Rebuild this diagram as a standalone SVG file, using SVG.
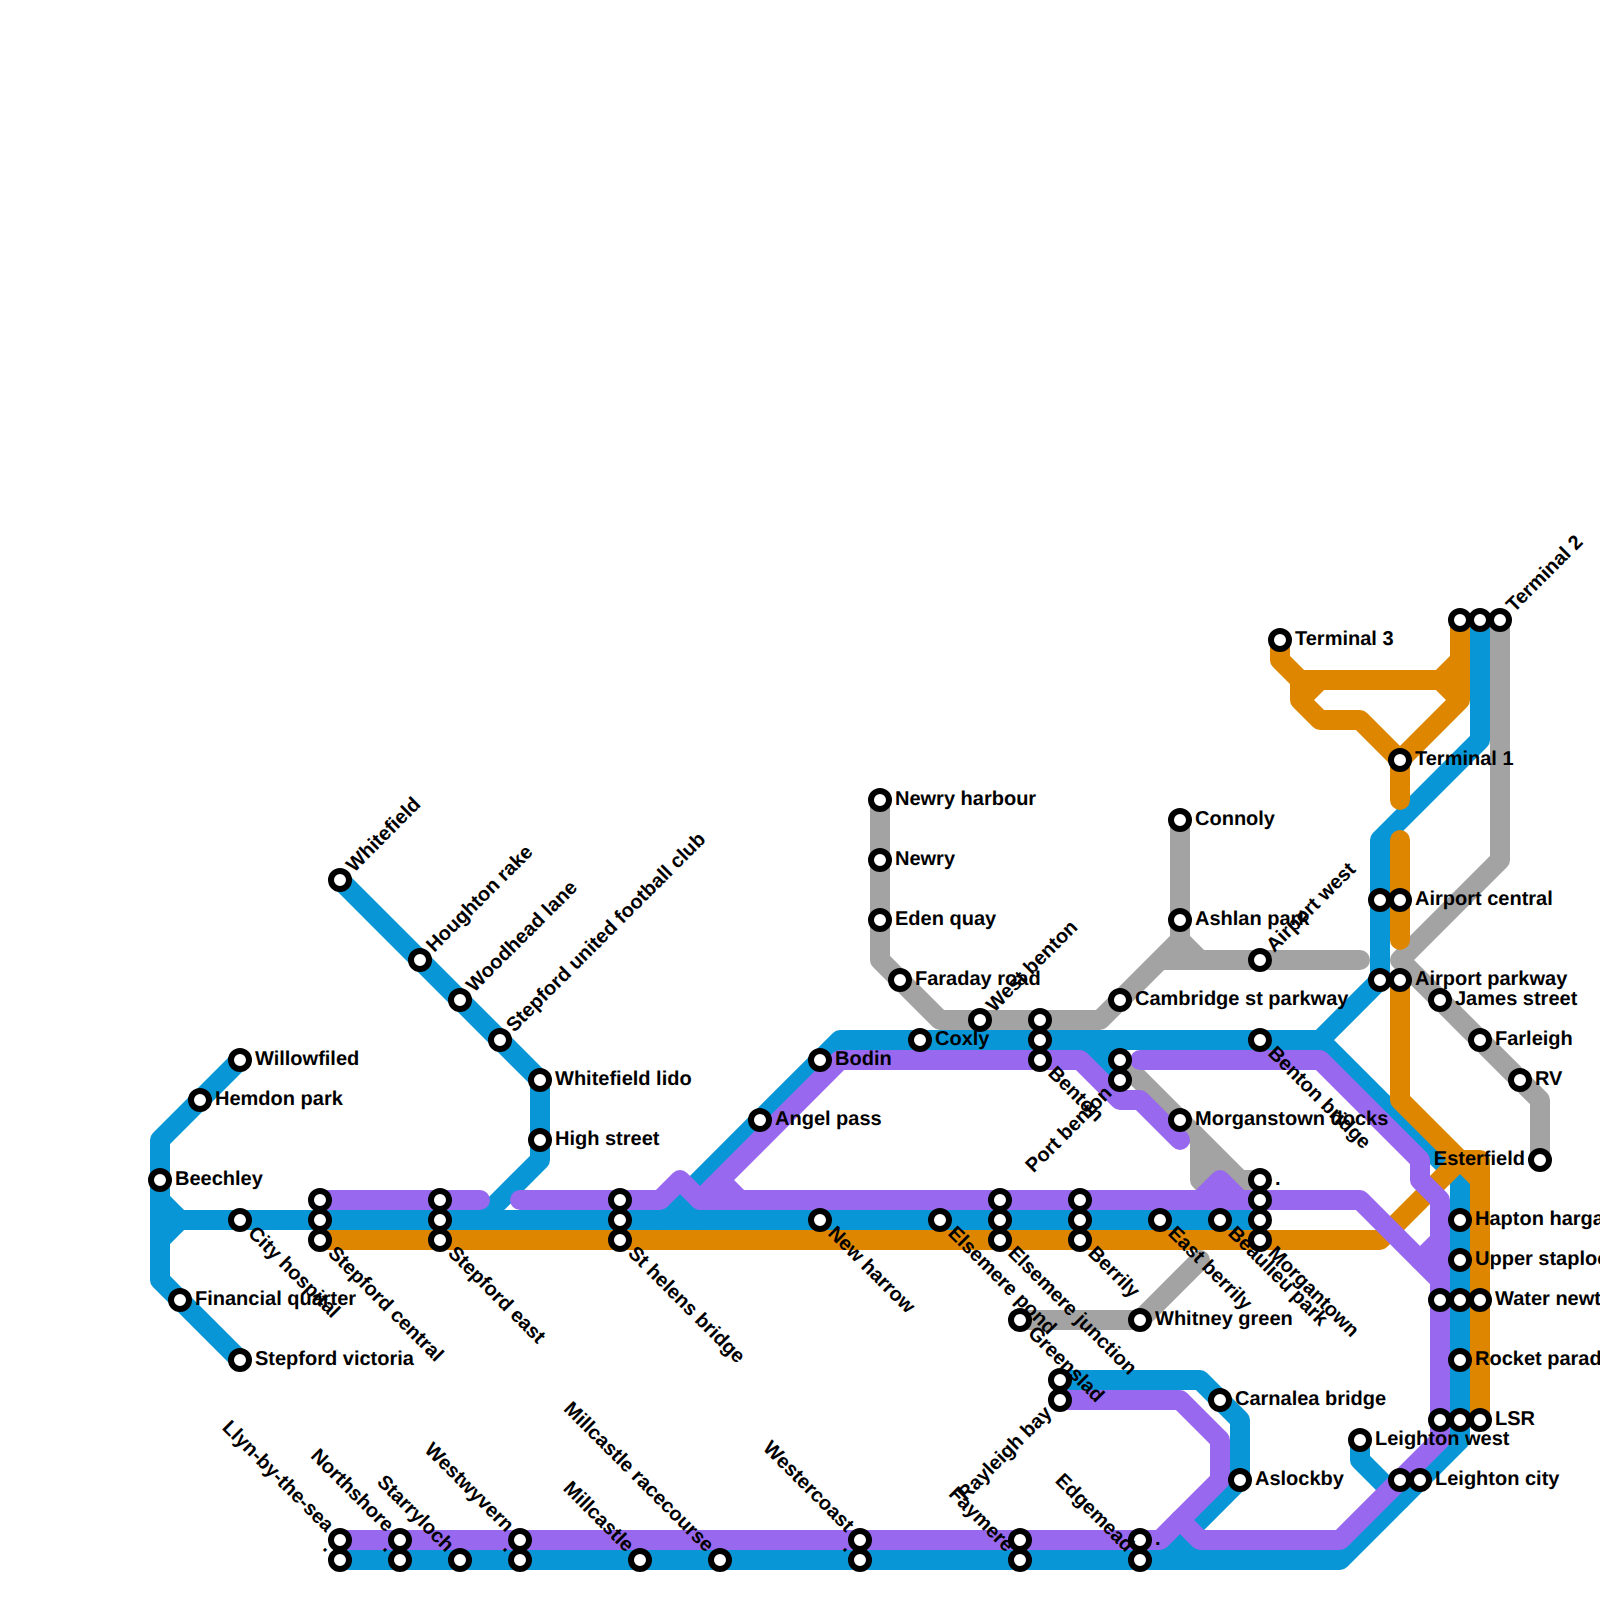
<svg xmlns="http://www.w3.org/2000/svg" width="1600" height="1600" viewBox="0 0 1600 1600">
<style>
.l{fill:none;stroke-width:20;stroke-linecap:round;stroke-linejoin:round}
.g{stroke:#a3a3a3}.b{stroke:#0896d7}.o{stroke:#df8600}.p{stroke:#9869ee}
circle{fill:#fff;stroke:#000;stroke-width:6}
text{font-family:"Liberation Sans",Arial,sans-serif;font-size:20px;font-weight:700;fill:#000;text-rendering:geometricPrecision}
.e{text-anchor:end}
</style>
<rect width="1600" height="1600" fill="#fff"/>
<g id="connectors">
<path class="l g" d="M880,800L880,960L940,1020L1100,1020L1180,940L1180,820M1160,960L1360,960M1180,940L1200,960"/>
<path class="l g" d="M1500,620L1500,860L1400,960L1540,1100L1540,1160"/>
<path class="l g" d="M1120,1060L1240,1180L1260,1180M1200,1140L1200,1180L1220,1200M1200,1180L1220,1160M1220,1200L1240,1180"/>
<path class="l g" d="M1020,1320L1140,1320L1200,1260"/>
<path class="l b" d="M240,1060L160,1140L160,1280L240,1360M160,1200L180,1220M160,1240L180,1220L1260,1220"/>
<path class="l b" d="M340,880L540,1080L540,1160L480,1220"/>
<path class="l b" d="M660,1220L840,1040L1320,1040L1380,980L1380,840L1480,740L1480,620M680,1200L700,1220M1320,1040L1460,1180L1460,1440L1340,1560L340,1560M1080,1040L1120,1080M1100,1040L1120,1060"/>
<path class="l b" d="M1060,1380L1200,1380L1240,1420L1240,1480L1160,1560M1180,1540L1200,1560"/>
<path class="l b" d="M1360,1440L1360,1460L1400,1500"/>
<path class="l o" d="M320,1240L1380,1240L1460,1160L1480,1160L1480,1420M1400,980L1400,1100L1480,1180"/>
<path class="l o" d="M1280,640L1280,660L1300,680L1440,680L1460,660L1460,620L1460,700L1400,760L1400,800M1400,840L1400,940M1440,680L1460,700M1300,680L1300,700L1320,680M1300,700L1320,720L1360,720L1400,760"/>
<path class="l p" d="M320,1200L480,1200"/>
<path class="l p" d="M520,1200L660,1200L680,1180L700,1200L1200,1200L1220,1180L1240,1200L1360,1200L1440,1280L1440,1200L1420,1180L1420,1160L1320,1060L1140,1060M1200,1200L1240,1200"/>
<path class="l p" d="M700,1200L840,1060L1080,1060L1120,1100L1140,1100L1180,1140M720,1180L740,1200"/>
<path class="l p" d="M1440,1240L1420,1260"/>
<path class="l p" d="M1060,1400L1180,1400L1220,1440L1220,1480L1160,1540L340,1540"/>
<path class="l p" d="M1180,1520L1200,1540L1340,1540L1440,1440L1440,1280"/>
</g>
<g id="stations">
<g id="s1"><circle cx="240" cy="1060" r="9"/><text x="255" y="1065">Willowfiled</text></g>
<g id="s2"><circle cx="200" cy="1100" r="9"/><text x="215" y="1105">Hemdon park</text></g>
<g id="s3"><circle cx="160" cy="1180" r="9"/><text x="175" y="1185">Beechley</text></g>
<g id="s4"><circle cx="240" cy="1220" r="9"/><text transform="translate(240 1220) rotate(45)" x="15" y="5">City hospital</text></g>
<g id="s5"><circle cx="180" cy="1300" r="9"/><text x="195" y="1305">Financial quarter</text></g>
<g id="s6"><circle cx="240" cy="1360" r="9"/><text x="255" y="1365">Stepford victoria</text></g>
<g id="s7"><circle cx="320" cy="1200" r="9"/><circle cx="320" cy="1220" r="9"/><circle cx="320" cy="1240" r="9"/><text transform="translate(320 1240) rotate(45)" x="15" y="5">Stepford central</text></g>
<g id="s8"><circle cx="440" cy="1200" r="9"/><circle cx="440" cy="1220" r="9"/><circle cx="440" cy="1240" r="9"/><text transform="translate(440 1240) rotate(45)" x="15" y="5">Stepford east</text></g>
<g id="s9"><circle cx="620" cy="1200" r="9"/><circle cx="620" cy="1220" r="9"/><circle cx="620" cy="1240" r="9"/><text transform="translate(620 1240) rotate(45)" x="15" y="5">St helens bridge</text></g>
<g id="s10"><circle cx="340" cy="880" r="9"/><text transform="translate(340 880) rotate(-45)" x="15" y="5">Whitefield</text></g>
<g id="s11"><circle cx="420" cy="960" r="9"/><text transform="translate(420 960) rotate(-45)" x="15" y="5">Houghton rake</text></g>
<g id="s12"><circle cx="460" cy="1000" r="9"/><text transform="translate(460 1000) rotate(-45)" x="15" y="5">Woodhead lane</text></g>
<g id="s13"><circle cx="500" cy="1040" r="9"/><text transform="translate(500 1040) rotate(-45)" x="15" y="5">Stepford united football club</text></g>
<g id="s14"><circle cx="540" cy="1080" r="9"/><text x="555" y="1085">Whitefield lido</text></g>
<g id="s15"><circle cx="540" cy="1140" r="9"/><text x="555" y="1145">High street</text></g>
<g id="s16"><circle cx="760" cy="1120" r="9"/><text x="775" y="1125">Angel pass</text></g>
<g id="s17"><circle cx="820" cy="1060" r="9"/><text x="835" y="1065">Bodin</text></g>
<g id="s18"><circle cx="820" cy="1220" r="9"/><text transform="translate(820 1220) rotate(45)" x="15" y="5">New harrow</text></g>
<g id="s19"><circle cx="880" cy="800" r="9"/><text x="895" y="805">Newry harbour</text></g>
<g id="s20"><circle cx="880" cy="860" r="9"/><text x="895" y="865">Newry</text></g>
<g id="s21"><circle cx="880" cy="920" r="9"/><text x="895" y="925">Eden quay</text></g>
<g id="s22"><circle cx="900" cy="980" r="9"/><text x="915" y="985">Faraday road</text></g>
<g id="s23"><circle cx="920" cy="1040" r="9"/><text x="935" y="1045">Coxly</text></g>
<g id="s24"><circle cx="940" cy="1220" r="9"/><text transform="translate(940 1220) rotate(45)" x="15" y="5">Elsemere pond</text></g>
<g id="s25"><circle cx="980" cy="1020" r="9"/><text transform="translate(980 1020) rotate(-45)" x="15" y="5">West benton</text></g>
<g id="s26"><circle cx="1000" cy="1200" r="9"/><circle cx="1000" cy="1220" r="9"/><circle cx="1000" cy="1240" r="9"/><text transform="translate(1000 1240) rotate(45)" x="15" y="5">Elsemere junction</text></g>
<g id="s27"><circle cx="1040" cy="1020" r="9"/><circle cx="1040" cy="1040" r="9"/><circle cx="1040" cy="1060" r="9"/><text transform="translate(1040 1060) rotate(45)" x="15" y="5">Benton</text></g>
<g id="s28"><circle cx="1080" cy="1200" r="9"/><circle cx="1080" cy="1220" r="9"/><circle cx="1080" cy="1240" r="9"/><text transform="translate(1080 1240) rotate(45)" x="15" y="5">Berrily</text></g>
<g id="s29"><circle cx="1120" cy="1000" r="9"/><text x="1135" y="1005">Cambridge st parkway</text></g>
<g id="s30"><circle cx="1120" cy="1060" r="9"/><circle cx="1120" cy="1080" r="9"/><text class="e" transform="translate(1120 1080) rotate(-45)" x="-15" y="5">Port benton</text></g>
<g id="s31"><circle cx="1160" cy="1220" r="9"/><text transform="translate(1160 1220) rotate(45)" x="15" y="5">East berrily</text></g>
<g id="s32"><circle cx="1180" cy="820" r="9"/><text x="1195" y="825">Connoly</text></g>
<g id="s33"><circle cx="1180" cy="920" r="9"/><text x="1195" y="925">Ashlan park</text></g>
<g id="s34"><circle cx="1180" cy="1120" r="9"/><text x="1195" y="1125">Morganstown docks</text></g>
<g id="s35"><circle cx="1220" cy="1220" r="9"/><text transform="translate(1220 1220) rotate(45)" x="15" y="5">Beaulieu park</text></g>
<g id="s36"><circle cx="1260" cy="960" r="9"/><text transform="translate(1260 960) rotate(-45)" x="15" y="5">Airport west</text></g>
<g id="s37"><circle cx="1260" cy="1040" r="9"/><text transform="translate(1260 1040) rotate(45)" x="15" y="5">Benton bridge</text></g>
<g id="s38"><circle cx="1260" cy="1180" r="9"/><text x="1275" y="1185">.</text><circle cx="1260" cy="1200" r="9"/><circle cx="1260" cy="1220" r="9"/><circle cx="1260" cy="1240" r="9"/><text transform="translate(1260 1240) rotate(45)" x="15" y="5">Morgantown</text></g>
<g id="s39"><circle cx="1020" cy="1320" r="9"/><text transform="translate(1020 1320) rotate(45)" x="15" y="5">Greenslad</text></g>
<g id="s40"><circle cx="1140" cy="1320" r="9"/><text x="1155" y="1325">Whitney green</text></g>
<g id="s41"><circle cx="1060" cy="1380" r="9"/><circle cx="1060" cy="1400" r="9"/><text class="e" transform="translate(1060 1400) rotate(-45)" x="-15" y="5">Rayleigh bay</text></g>
<g id="s42"><circle cx="1220" cy="1400" r="9"/><text x="1235" y="1405">Carnalea bridge</text></g>
<g id="s43"><circle cx="1240" cy="1480" r="9"/><text x="1255" y="1485">Aslockby</text></g>
<g id="s44"><circle cx="1280" cy="640" r="9"/><text x="1295" y="645">Terminal 3</text></g>
<g id="s45"><circle cx="1400" cy="760" r="9"/><text x="1415" y="765">Terminal 1</text></g>
<g id="s46"><circle cx="1460" cy="620" r="9"/><circle cx="1480" cy="620" r="9"/><circle cx="1500" cy="620" r="9"/><text transform="translate(1500 620) rotate(-45)" x="15" y="5">Terminal 2</text></g>
<g id="s47"><circle cx="1380" cy="900" r="9"/><circle cx="1400" cy="900" r="9"/><text x="1415" y="905">Airport central</text></g>
<g id="s48"><circle cx="1380" cy="980" r="9"/><circle cx="1400" cy="980" r="9"/><text x="1415" y="985">Airport parkway</text></g>
<g id="s49"><circle cx="1440" cy="1000" r="9"/><text x="1455" y="1005">James street</text></g>
<g id="s50"><circle cx="1480" cy="1040" r="9"/><text x="1495" y="1045">Farleigh</text></g>
<g id="s51"><circle cx="1520" cy="1080" r="9"/><text x="1535" y="1085">RV</text></g>
<g id="s52"><circle cx="1540" cy="1160" r="9"/><text class="e" x="1525" y="1165">Esterfield</text></g>
<g id="s53"><circle cx="1460" cy="1220" r="9"/><text x="1475" y="1225">Hapton hargate</text></g>
<g id="s54"><circle cx="1460" cy="1260" r="9"/><text x="1475" y="1265">Upper staploe</text></g>
<g id="s55"><circle cx="1440" cy="1300" r="9"/><circle cx="1460" cy="1300" r="9"/><circle cx="1480" cy="1300" r="9"/><text x="1495" y="1305">Water newton</text></g>
<g id="s56"><circle cx="1460" cy="1360" r="9"/><text x="1475" y="1365">Rocket parade</text></g>
<g id="s57"><circle cx="1440" cy="1420" r="9"/><circle cx="1460" cy="1420" r="9"/><circle cx="1480" cy="1420" r="9"/><text x="1495" y="1425">LSR</text></g>
<g id="s58"><circle cx="1360" cy="1440" r="9"/><text x="1375" y="1445">Leighton west</text></g>
<g id="s59"><circle cx="1400" cy="1480" r="9"/><circle cx="1420" cy="1480" r="9"/><text x="1435" y="1485">Leighton city</text></g>
<g id="s60"><circle cx="340" cy="1540" r="9"/><text class="e" transform="translate(340 1540) rotate(45)" x="-15" y="5">Llyn-by-the-sea</text><circle cx="340" cy="1560" r="9"/><text class="e" transform="translate(340 1560) rotate(45)" x="-15" y="5">.</text></g>
<g id="s61"><circle cx="400" cy="1540" r="9"/><text class="e" transform="translate(400 1540) rotate(45)" x="-15" y="5">Northshore</text><circle cx="400" cy="1560" r="9"/><text class="e" transform="translate(400 1560) rotate(45)" x="-15" y="5">.</text></g>
<g id="s62"><circle cx="460" cy="1560" r="9"/><text class="e" transform="translate(460 1560) rotate(45)" x="-15" y="5">Starryloch</text></g>
<g id="s63"><circle cx="520" cy="1540" r="9"/><text class="e" transform="translate(520 1540) rotate(45)" x="-15" y="5">Westwyvern</text><circle cx="520" cy="1560" r="9"/><text class="e" transform="translate(520 1560) rotate(45)" x="-15" y="5">.</text></g>
<g id="s64"><circle cx="640" cy="1560" r="9"/><text class="e" transform="translate(640 1560) rotate(45)" x="-15" y="5">Millcastle</text></g>
<g id="s65"><circle cx="720" cy="1560" r="9"/><text class="e" transform="translate(720 1560) rotate(45)" x="-15" y="5">Millcastle racecourse</text></g>
<g id="s66"><circle cx="860" cy="1540" r="9"/><text class="e" transform="translate(860 1540) rotate(45)" x="-15" y="5">Westercoast</text><circle cx="860" cy="1560" r="9"/><text class="e" transform="translate(860 1560) rotate(45)" x="-15" y="5">.</text></g>
<g id="s67"><circle cx="1020" cy="1540" r="9"/><circle cx="1020" cy="1560" r="9"/><text class="e" transform="translate(1020 1560) rotate(45)" x="-15" y="5">Faymere</text></g>
<g id="s68"><circle cx="1140" cy="1540" r="9"/><text x="1155" y="1545">.</text><circle cx="1140" cy="1560" r="9"/><text class="e" transform="translate(1140 1560) rotate(45)" x="-15" y="5">Edgemead</text></g>
</g>
</svg>
